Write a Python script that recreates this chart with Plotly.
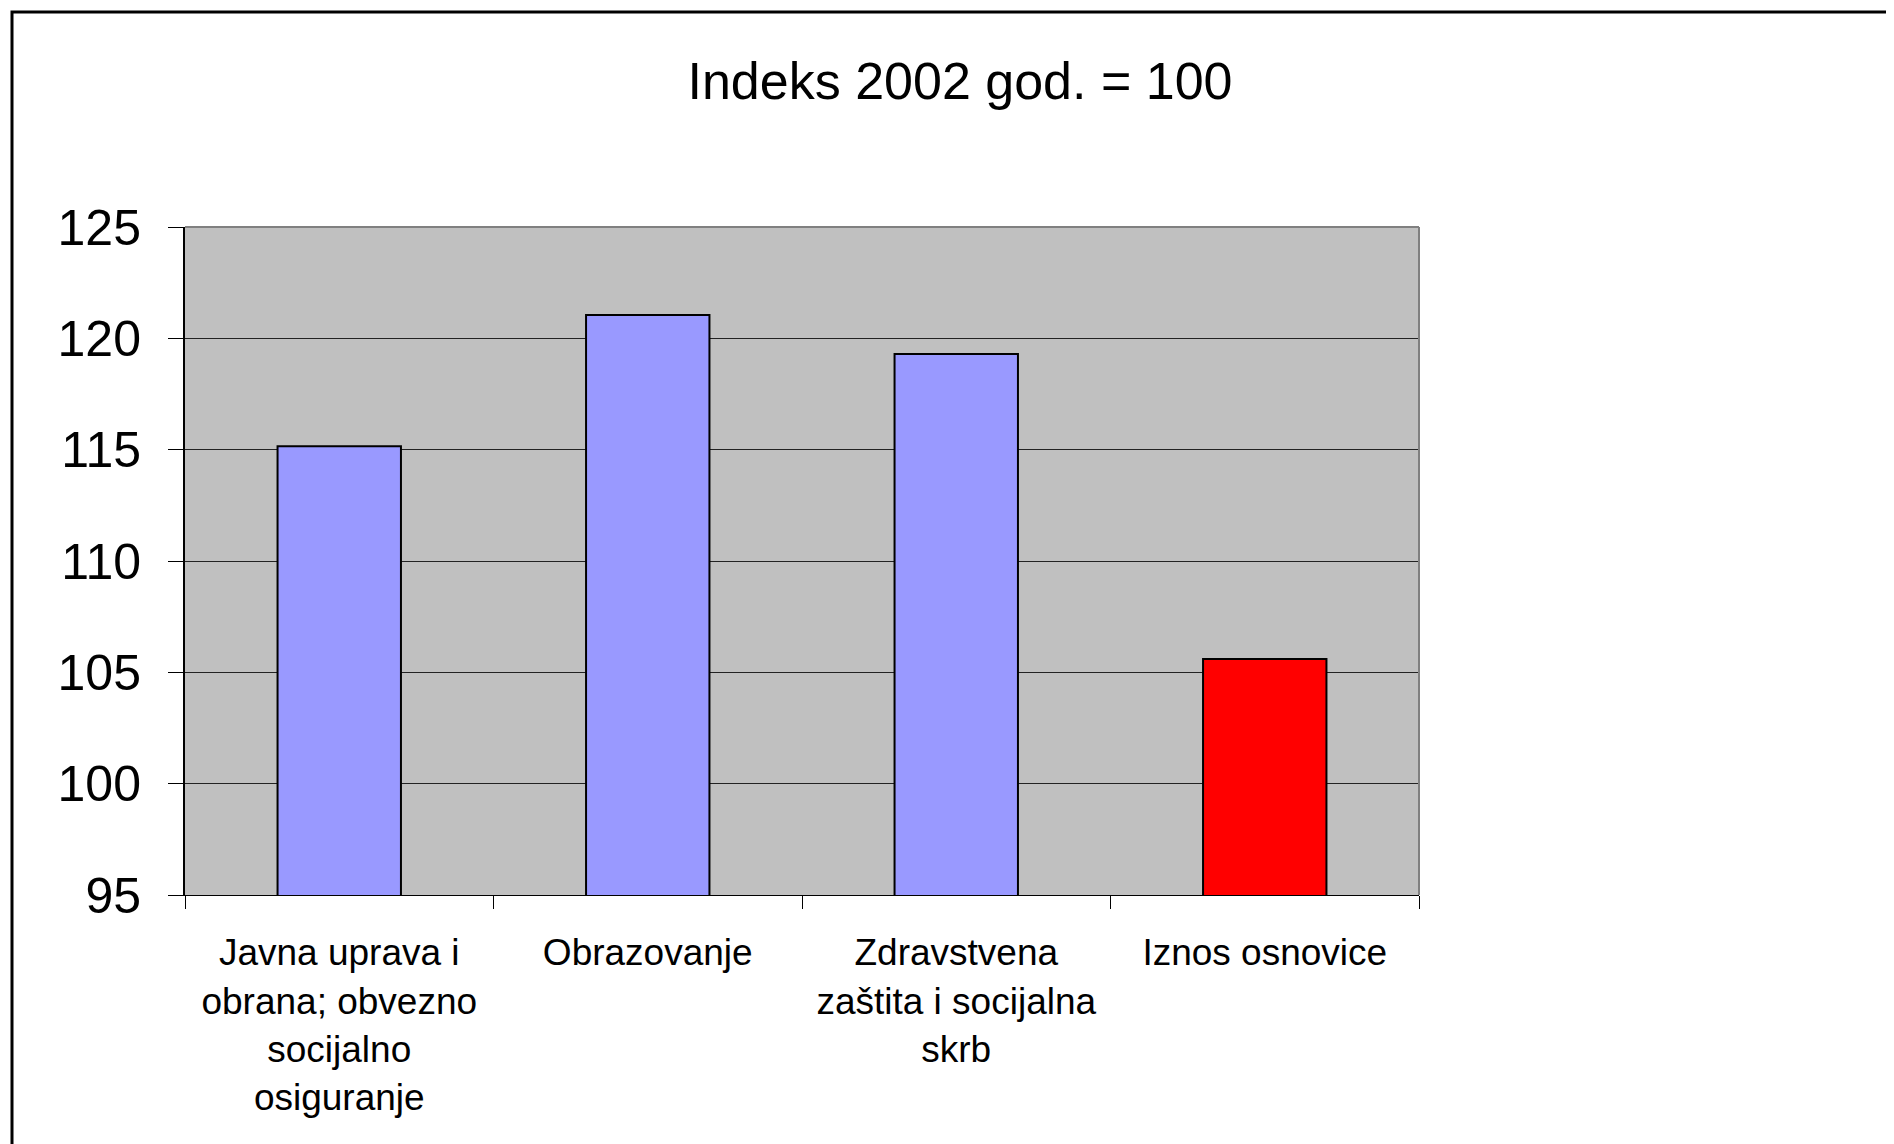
import plotly.graph_objects as go

categories = [
    "Javna uprava i<br>obrana; obvezno<br>socijalno<br>osiguranje",
    "Obrazovanje",
    "Zdravstvena<br>zaštita i socijalna<br>skrb",
    "Iznos osnovice",
]
values = [115.15, 121.05, 119.3, 105.6]
bar_colors = ["#9999FF", "#9999FF", "#9999FF", "#FF0000"]
y_ticks = [95, 100, 105, 110, 115, 120, 125]
title_text = "Indeks 2002 god. = 100"

FONT = "Liberation Sans, Arial, sans-serif"

OFF = 8  # page body margin
W, H = 1894, 1144
L, R, T, B = 185 - OFF, 1419 - OFF, 227 - OFF, 895 - OFF
pw, ph = R - L, B - T

fig = go.Figure()
fig.add_trace(go.Bar(
    x=categories, y=values,
    marker=dict(color=bar_colors, line=dict(color="black", width=2)),
    width=0.4,
    hoverinfo="x+y",
))

fig.update_layout(
    width=W, height=H,
    margin=dict(l=L, r=W - R, t=T, b=H - B, pad=0),
    paper_bgcolor="white",
    plot_bgcolor="#C0C0C0",
    showlegend=False,
    font=dict(family=FONT, color="black"),
    xaxis=dict(
        type="category",
        tickson="boundaries",
        ticks="outside", ticklen=13, tickwidth=1, tickcolor="black",
        showline=True, linecolor="black", linewidth=1,
        showgrid=False,
        tickfont=dict(size=37, family=FONT, color="black"),
        ticklabelstandoff=25,
        range=[-0.5, 3.5],
    ),
    yaxis=dict(
        range=[95, 125],
        tickvals=y_ticks,
        ticks="outside", ticklen=15, tickwidth=1, tickcolor="black",
        showline=True, linecolor="black", linewidth=2,
        showgrid=True, gridcolor="#222222", gridwidth=1,
        zeroline=False,
        tickfont=dict(size=50, family=FONT, color="black"),
        ticklabelstandoff=17,
    ),
    title=dict(
        text=title_text,
        font=dict(size=52, family=FONT, color="black"),
        x=(960 - OFF) / W, xanchor="center",
        y=1 - (78 - OFF + 3) / H, yanchor="middle",
        xref="container", yref="container",
    ),
)

# plot-area top and right edges (gray)
fig.add_shape(type="line", xref="paper", yref="paper", x0=0, x1=1, y0=1, y1=1,
              line=dict(color="#808080", width=2), layer="above")
fig.add_shape(type="line", xref="paper", yref="paper", x0=1, x1=1, y0=0, y1=1,
              line=dict(color="#808080", width=2), layer="above")

# outer chart frame
fx0 = (12 - OFF - L) / pw
fy1 = (B - (12 - OFF)) / ph
fig.add_shape(type="rect", xref="paper", yref="paper",
              x0=fx0, x1=(W + 20 - L) / pw, y0=-(H + 20 - B) / ph, y1=fy1,
              line=dict(color="black", width=3), fillcolor="rgba(0,0,0,0)", layer="above")

fig.write_html("out.html")
